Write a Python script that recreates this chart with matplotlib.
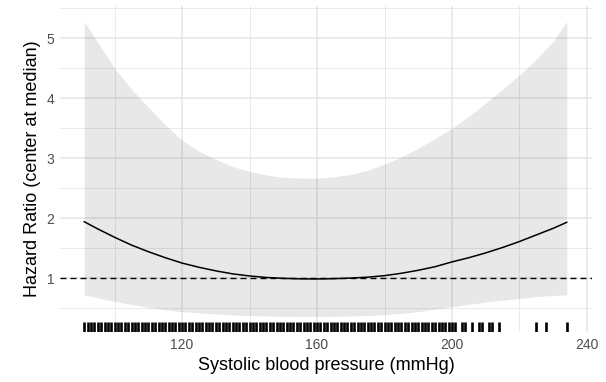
import matplotlib
matplotlib.use("Agg")
import matplotlib.pyplot as plt
import matplotlib.transforms as mtransforms

# Systolic blood pressure grid (mmHg)
sbp = [91, 95, 100, 105, 110, 115, 120, 125, 130, 135, 140, 145, 150, 155, 160,
       165, 170, 175, 180, 185, 190, 195, 200, 205, 210, 215, 220, 225, 230, 234]
hr = [1.94, 1.82, 1.68, 1.55, 1.44, 1.34, 1.25, 1.18, 1.12, 1.07, 1.035, 1.01, 0.995, 0.987, 0.985,
      0.99, 1.0, 1.015, 1.04, 1.08, 1.13, 1.19, 1.27, 1.34, 1.42, 1.51, 1.61, 1.72, 1.83, 1.93]
hr_upper = [5.28, 4.93, 4.5, 4.15, 3.85, 3.56, 3.3, 3.12, 2.98, 2.86, 2.78, 2.72, 2.68, 2.67, 2.67,
            2.69, 2.73, 2.8, 2.9, 3.02, 3.17, 3.33, 3.5, 3.7, 3.92, 4.15, 4.39, 4.65, 4.95, 5.28]
hr_lower = [0.72, 0.67, 0.61, 0.56, 0.51, 0.47, 0.44, 0.42, 0.40, 0.385, 0.375, 0.367, 0.362, 0.36, 0.36,
            0.362, 0.367, 0.375, 0.39, 0.41, 0.44, 0.48, 0.52, 0.56, 0.6, 0.63, 0.66, 0.69, 0.71, 0.72]

# observed SBP values (rug)
rug_sbp = [91, 92, 93, 94, 95, 96, 97, 98, 99, 100, 101, 102, 103, 104, 105, 106, 107, 108, 109, 110,
           111, 112, 113, 114, 115, 116, 117, 118, 119, 120, 121, 122, 123, 124, 125, 126, 127, 128, 129, 130,
           131, 132, 133, 134, 135, 136, 137, 138, 139, 140, 141, 142, 143, 144, 145, 146, 147, 148, 149, 150,
           151, 152, 153, 154, 155, 156, 157, 158, 159, 160, 161, 162, 163, 164, 165, 166, 167, 168, 169, 170,
           171, 172, 173, 174, 175, 176, 177, 178, 179, 180, 181, 182, 183, 184, 185, 186, 187, 188, 189, 190,
           191, 192, 193, 194, 195, 196, 197, 198, 199, 200,
           201, 203, 204, 206, 208, 209, 211, 212, 214, 225, 228, 234]

x_ticks = [120, 160, 200, 240]
y_ticks = [1, 2, 3, 4, 5]

plt.rcParams['font.family'] = ['Liberation Sans', 'DejaVu Sans']

fig = plt.figure(figsize=(6.06, 3.82), dpi=100)
ax = fig.add_axes([60/606, 1-332/382, (592-60)/606, (332-6)/382])

grid_col = '#E6E6E6'
for v in [100, 140, 180, 220]:
    ax.axvline(v, color=grid_col, lw=0.6, zorder=0)
for v in [0.5, 1.5, 2.5, 3.5, 4.5, 5.5]:
    ax.axhline(v, color=grid_col, lw=0.6, zorder=0)
for v in x_ticks:
    ax.axvline(v, color=grid_col, lw=1.1, zorder=0)
for v in y_ticks:
    ax.axhline(v, color=grid_col, lw=1.1, zorder=0)

ax.fill_between(sbp, hr_lower, hr_upper, color='black', alpha=0.09, lw=0, zorder=1)
ax.axhline(1, color='black', lw=1.0, linestyle=(0, (4.3, 2.9)), zorder=2)
ax.plot(sbp, hr, color='black', lw=1.1, zorder=3)

trans = mtransforms.blended_transform_factory(ax.transData, ax.transAxes)
ax.vlines(rug_sbp, 0, 0.03, transform=trans, color='black', lw=1.9, zorder=3)

ax.set_xlim(83.8, 241.5)
ax.set_ylim(0.1, 5.54)
ax.set_xticks(x_ticks)
ax.set_yticks(y_ticks)
ax.tick_params(length=0, labelsize=10, labelcolor='#4D4D4D', pad=4)
for s in ax.spines.values():
    s.set_visible(False)
ax.set_xlabel('Systolic blood pressure (mmHg)', fontsize=13, labelpad=4)
ax.set_ylabel('Hazard Ratio (center at median)', fontsize=13, labelpad=4)

fig.savefig('out.png', dpi=100)
